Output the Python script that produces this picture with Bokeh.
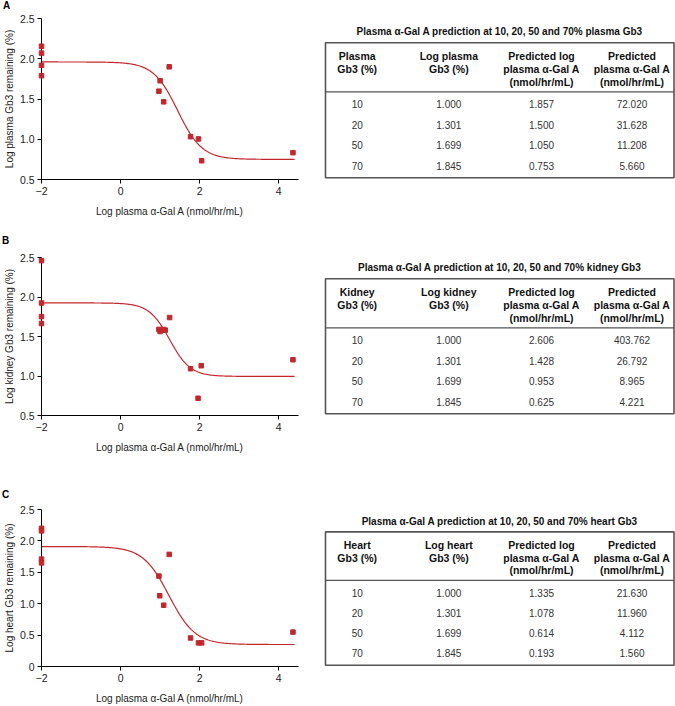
import numpy as np
from bokeh.plotting import figure
from bokeh.models import Range1d, FixedTicker, PrintfTickFormatter
from bokeh.layouts import column, row
from bokeh.embed import file_html
from bokeh.resources import INLINE
from bokeh.core.properties import value

# ---------------- data ----------------
# Panel A: plasma Gb3
plasma_x = [-2, -2, -2, -2, 0.97, 1.00, 1.09, 1.23, 1.77, 1.97, 2.05, 4.36]
plasma_y = [2.155, 2.07, 1.918, 1.789, 1.597, 1.727, 1.465, 1.90, 1.032, 1.004, 0.733, 0.833]
# Panel B: kidney Gb3
kidney_x = [-2, -2, -2, -2, 0.97, 1.00, 1.09, 1.13, 1.24, 1.77, 1.96, 2.04, 4.36]
kidney_y = [2.46, 1.924, 1.752, 1.664, 1.59, 1.563, 1.588, 1.58, 1.74, 1.092, 0.718, 1.13, 1.206]
# Panel C: heart Gb3
heart_x = [-2, -2, -2, -2, 0.97, 0.99, 1.09, 1.23, 1.77, 1.97, 2.05, 4.36]
heart_y = [2.20, 2.16, 1.71, 1.65, 1.44, 1.127, 0.976, 1.785, 0.454, 0.376, 0.376, 0.548]

# four-parameter logistic fits (top, bottom, logEC50, hill), consistent with the tables
plasma_fit = (1.96, 0.75, 1.445, 1.416)
kidney_fit = (1.925, 0.995, 1.242, 1.662)
heart_fit = (1.91, 0.35, 1.224, 1.32)
fit_x_range = (-2.0, 4.4)

x_ticks = [-2, 0, 2, 4]
y_ticks_ab = [0.5, 1.0, 1.5, 2.0, 2.5]
y_ticks_c = [0, 0.5, 1.0, 1.5, 2.0, 2.5]

gb3_pct = [10, 20, 50, 70]
log_gb3 = [1.000, 1.301, 1.699, 1.845]
plasma_pred_log = [1.857, 1.500, 1.050, 0.753]
plasma_pred = [72.020, 31.628, 11.208, 5.660]
kidney_pred_log = [2.606, 1.428, 0.953, 0.625]
kidney_pred = [403.762, 26.792, 8.965, 4.221]
heart_pred_log = [1.335, 1.078, 0.614, 0.193]
heart_pred = [21.630, 11.960, 4.112, 1.560]

titles = ["Plasma \u03b1-Gal A prediction at 10, 20, 50 and 70% plasma Gb3",
          "Plasma \u03b1-Gal A prediction at 10, 20, 50 and 70% kidney Gb3",
          "Plasma \u03b1-Gal A prediction at 10, 20, 50 and 70% heart Gb3"]
headers_plasma = ["Plasma\nGb3 (%)", "Log plasma\nGb3 (%)",
                  "Predicted log\nplasma \u03b1-Gal A\n(nmol/hr/mL)", "Predicted\nplasma \u03b1-Gal A\n(nmol/hr/mL)"]
headers_kidney = ["Kidney\nGb3 (%)", "Log kidney\nGb3 (%)",
                  "Predicted log\nplasma \u03b1-Gal A\n(nmol/hr/mL)", "Predicted\nplasma \u03b1-Gal A\n(nmol/hr/mL)"]
headers_heart = ["Heart\nGb3 (%)", "Log heart\nGb3 (%)",
                 "Predicted log\nplasma \u03b1-Gal A\n(nmol/hr/mL)", "Predicted\nplasma \u03b1-Gal A\n(nmol/hr/mL)"]
x_label = "Log plasma \u03b1-Gal A (nmol/hr/mL)"
y_labels = ["Log plasma Gb3 remaining (%)", "Log kidney Gb3 remaining (%)", "Log heart Gb3 remaining (%)"]
letters = ["A", "B", "C"]

# ---------------- style ----------------
FONT = "Liberation Sans"
RED = "#c1272d"
TXT = "#222222"
PLOT_W, TABLE_W = 310, 365


def logistic(x, fit):
    top, bottom, c, h = fit
    return bottom + (top - bottom) / (1.0 + 10 ** ((x - c) * h))


def make_plot(xs, ys, fit, ylabel, ymin, yticks, letter, height, b_top, b_bottom, letter_dx, letter_dy):
    p = figure(width=PLOT_W, height=height, output_backend="svg", toolbar_location=None,
               x_range=Range1d(-2, 4.5), y_range=Range1d(ymin, 2.5),
               min_border_left=40, min_border_right=12,
               min_border_top=b_top, min_border_bottom=b_bottom)
    p.outline_line_color = None
    p.grid.visible = False
    p.background_fill_color = "white"
    p.border_fill_color = "white"

    cx = np.linspace(fit_x_range[0], fit_x_range[1], 300)
    p.line(cx, logistic(cx, fit), line_color=RED, line_width=1.2)
    p.scatter(xs, ys, marker="square", size=4.5, fill_color=RED, line_color=RED, level="overlay")

    for ax in (p.xaxis[0], p.yaxis[0]):
        ax.axis_line_color = "black"
        ax.axis_line_width = 1
        ax.major_tick_line_color = "black"
        ax.major_tick_in = 0
        ax.major_tick_out = 4
        ax.minor_tick_line_color = None
        ax.major_label_text_font = FONT
        ax.major_label_text_font_size = "10.5px"
        ax.major_label_text_color = TXT
        ax.axis_label_text_font = FONT
        ax.axis_label_text_font_size = "10px"
        ax.axis_label_text_font_style = "normal"
        ax.axis_label_text_color = TXT

    p.xaxis.ticker = FixedTicker(ticks=x_ticks)
    p.xaxis.major_label_overrides = {t: (str(t).replace("-", "\u2212")) for t in x_ticks}
    p.xaxis.major_label_standoff = 3
    p.xaxis.axis_label = x_label
    p.xaxis.axis_label_standoff = 8

    p.yaxis.ticker = FixedTicker(ticks=yticks)
    p.yaxis.formatter = PrintfTickFormatter(format="%.1f")
    p.yaxis.major_label_overrides = {0: "0"}
    p.yaxis.major_label_standoff = 3
    p.yaxis.axis_label = ylabel
    p.yaxis.axis_label_standoff = 2

    p.text(x=[-2], y=[2.5], text=[letter], x_offset=letter_dx, y_offset=letter_dy,
           text_align="center", text_baseline="middle", text_font=value(FONT),
           text_font_size="10px", text_font_style="bold", text_color="black", level="overlay")
    return p


COLS = [356.7, 448.3, 541.0, 631.5]
BOX_L, BOX_R = 325.0, 673.5


def make_table(title, headers, cols, row_top, height, b_top, b_bottom, T):
    t = figure(width=TABLE_W, height=height, output_backend="svg", toolbar_location=None,
               x_range=Range1d(310.0, 675.0),
               y_range=Range1d(row_top + height - b_bottom, row_top + b_top),
               x_axis_location=None, y_axis_location=None,
               min_border_left=0, min_border_right=0,
               min_border_top=b_top, min_border_bottom=b_bottom)
    t.outline_line_color = None
    t.grid.visible = False
    t.background_fill_color = "white"
    t.border_fill_color = "white"

    t.quad(left=[BOX_L], right=[BOX_R], top=[T], bottom=[T + 135], fill_color=None,
           line_color="#555555", line_width=1.6)
    t.segment(x0=[BOX_L], y0=[T + 49], x1=[BOX_R], y1=[T + 49], line_color="#555555", line_width=1.3)

    t.text(x=[(BOX_L + BOX_R) / 2], y=[T - 11], text=[title], text_align="center",
           text_baseline="middle", text_font=value(FONT), text_font_size="10px",
           text_font_style="bold", text_color="#111111")

    hx, hy, ht = [], [], []
    for i, h in enumerate(headers):
        for j, line in enumerate(h.split("\n")):
            hx.append(COLS[i])
            hy.append(T + 13.5 + j * 12.7)
            ht.append(line)
    t.text(x=hx, y=hy, text=ht, text_align="center", text_baseline="middle",
           text_font=value(FONT), text_font_size="10.5px", text_font_style="bold", text_color="#111111")

    bx, by, bt = [], [], []
    for i, col in enumerate(cols):
        for k, v in enumerate(col):
            bx.append(COLS[i])
            by.append(T + 61.5 + k * 20.5)
            bt.append(str(v) if i == 0 else f"{v:.3f}")
    t.text(x=bx, y=by, text=bt, text_align="center", text_baseline="middle",
           text_font=value(FONT), text_font_size="10px", text_color="#333333")
    return t


pA = make_plot(plasma_x, plasma_y, plasma_fit, y_labels[0], 0.5, y_ticks_ab, letters[0], 230, 18, 51, -35, -13)
pB = make_plot(kidney_x, kidney_y, kidney_fit, y_labels[1], 0.5, y_ticks_ab, letters[1], 230, 27, 45, -36, -17)
pC = make_plot(heart_x, heart_y, heart_fit, y_labels[2], 0.0, y_ticks_c, letters[2], 246, 49, 38, -36, -15)

tA = make_table(titles[0], headers_plasma, [gb3_pct, log_gb3, plasma_pred_log, plasma_pred], 0, 230, 18, 51, 42.3)
tB = make_table(titles[1], headers_kidney, [gb3_pct, log_gb3, kidney_pred_log, kidney_pred], 230, 230, 27, 45, 278.3)
tC = make_table(titles[2], headers_heart, [gb3_pct, log_gb3, heart_pred_log, heart_pred], 460, 246, 49, 38, 531.7)

layout = column(row(pA, tA, spacing=0), row(pB, tB, spacing=0), row(pC, tC, spacing=0), spacing=0)

open("out.html", "w").write(file_html(layout, INLINE))
